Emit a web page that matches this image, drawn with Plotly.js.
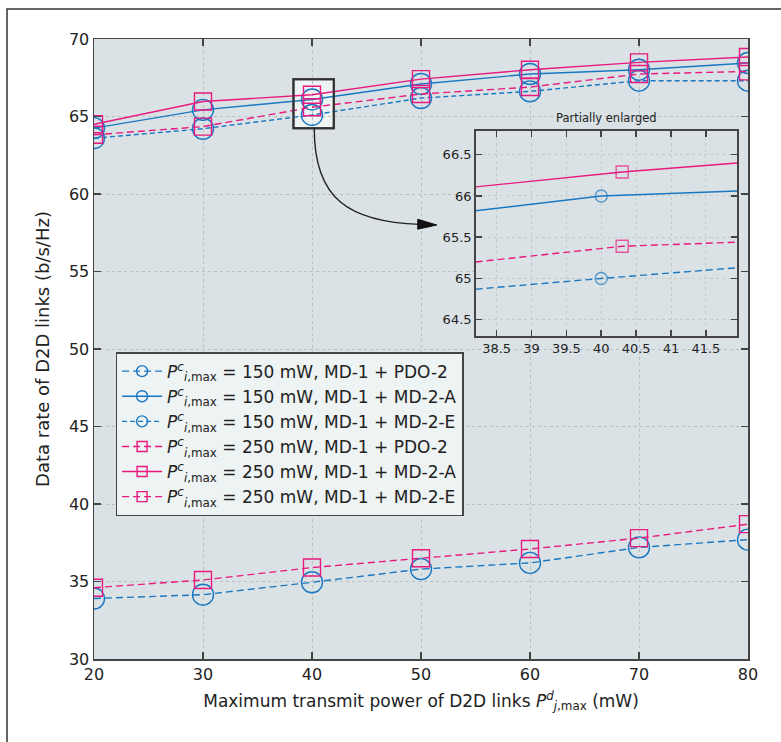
<!DOCTYPE html>
<html>
<head>
<meta charset="utf-8">
<script src="https://cdn.plot.ly/plotly-3.0.1.min.js"></script>
<style>html,body{margin:0;padding:0;background:#fff;}#chart{width:781px;height:742px;}</style>
</head>
<body>
<div id="chart"></div>
<script>
// ---- data ----
const powerD2D = [20, 30, 40, 50, 60, 70, 80];
const pdo150 = [33.9, 34.15, 34.95, 35.8, 36.2, 37.2, 37.7];
const mdA150 = [64.25, 65.43, 66.1, 67.1, 67.74, 68.02, 68.45];
const mdE150 = [63.6, 64.21, 65.1, 66.19, 66.62, 67.31, 67.31];
const pdo250 = [34.6, 35.1, 35.9, 36.5, 37.1, 37.8, 38.7];
const mdA250 = [64.5, 65.97, 66.4, 67.41, 68.02, 68.49, 68.84];
const mdE250 = [63.82, 64.35, 65.6, 66.45, 66.9, 67.74, 67.91];

const seriesNames = [
  "<i>P</i><sup><i>c</i></sup><sub><i>i</i>,max</sub> = 150 mW, MD-1 + PDO-2",
  "<i>P</i><sup><i>c</i></sup><sub><i>i</i>,max</sub> = 150 mW, MD-1 + MD-2-A",
  "<i>P</i><sup><i>c</i></sup><sub><i>i</i>,max</sub> = 150 mW, MD-1 + MD-2-E",
  "<i>P</i><sup><i>c</i></sup><sub><i>i</i>,max</sub> = 250 mW, MD-1 + PDO-2",
  "<i>P</i><sup><i>c</i></sup><sub><i>i</i>,max</sub> = 250 mW, MD-1 + MD-2-A",
  "<i>P</i><sup><i>c</i></sup><sub><i>i</i>,max</sub> = 250 mW, MD-1 + MD-2-E"
];

// inset ("Partially enlarged") data
const insetXCircle = [38.2, 40, 41.95];
const insetXSquare = [38.2, 40.3, 41.95];
const insetA150 = [65.82, 66.0, 66.06];
const insetE150 = [64.87, 65.0, 65.13];
const insetA250 = [66.11, 66.29, 66.40];
const insetE250 = [65.20, 65.39, 65.44];

const xTicks = [20, 30, 40, 50, 60, 70, 80];
const yTicks = [30, 35, 40, 45, 50, 55, 60, 65, 70];
const insetXTicks = [38.5, 39, 39.5, 40, 40.5, 41, 41.5];
const insetYTicks = [64.5, 65, 65.5, 66, 66.5];

// ---- styles ----
const BLUE = "#1a78c2";
const PINK = "#e8197f";
const FONT = "DejaVu Sans, Verdana, sans-serif";

const seriesStyles = [
  {y: pdo150, color: BLUE, dash: "7px,4px", symbol: "circle-open", size: 21},
  {y: mdA150, color: BLUE, dash: "solid", symbol: "circle-open", size: 21},
  {y: mdE150, color: BLUE, dash: "5px,3px", symbol: "circle-open", size: 21},
  {y: pdo250, color: PINK, dash: "7px,4px", symbol: "square-open", size: 17},
  {y: mdA250, color: PINK, dash: "solid", symbol: "square-open", size: 17},
  {y: mdE250, color: PINK, dash: "7px,4px", symbol: "square-open", size: 17}
];

const traces = [];
// plotted series (legend handled by proxy entries with smaller symbols)
seriesStyles.forEach((s, i) => {
  traces.push({
    x: powerD2D, y: s.y, name: seriesNames[i], type: "scatter", mode: "lines+markers",
    showlegend: false,
    line: {color: s.color, width: 1.4, dash: s.dash},
    marker: {symbol: s.symbol, size: s.size, color: s.color, line: {color: s.color, width: 1.4}},
    xaxis: "x", yaxis: "y"
  });
});
// legend entries (no data drawn)
seriesStyles.forEach((s, i) => {
  traces.push({
    x: [null], y: [null], name: seriesNames[i], type: "scatter", mode: "lines+markers",
    line: {color: s.color, width: 1.4, dash: s.dash},
    marker: {symbol: s.symbol, size: s.symbol === "circle-open" ? 11 : 10, color: s.color,
             line: {color: s.color, width: 1.4}},
    xaxis: "x", yaxis: "y", hoverinfo: "skip"
  });
});

function insetTrace(x, y, color, dash, symbol) {
  return {
    x: x, y: y, type: "scatter", mode: "lines+markers", showlegend: false,
    line: {color: color, width: 1.4, dash: dash},
    marker: {symbol: symbol, size: [0, 12, 0], color: color, line: {color: color, width: [0, 1.4, 0]}},
    xaxis: "x2", yaxis: "y2", hoverinfo: "skip"
  };
}
traces.push(
  insetTrace(insetXCircle, insetA150, BLUE, "solid", "circle-open"),
  insetTrace(insetXCircle, insetE150, BLUE, "7px,4px", "circle-open"),
  insetTrace(insetXSquare, insetA250, PINK, "solid", "square-open"),
  insetTrace(insetXSquare, insetE250, PINK, "7px,4px", "square-open")
);

const axisCommon = {
  showline: true, linecolor: "#444", linewidth: 1.5, mirror: "ticks",
  ticks: "inside", ticklen: 7, tickcolor: "#444", tickwidth: 1.5,
  showgrid: true, gridcolor: "#b9bfc2", griddash: "dot", gridwidth: 1,
  zeroline: false, tickfont: {family: FONT, size: 16, color: "#222"}
};

const layout = {
  width: 781, height: 742,
  margin: {l: 94, r: 33, t: 39, b: 83},
  paper_bgcolor: "#ffffff",
  plot_bgcolor: "#dbe2e5",
  font: {family: FONT, color: "#222"},
  showlegend: true,
  legend: {
    x: 0.033, y: 0.495, xanchor: "left", yanchor: "top",
    bgcolor: "#eef3f3", bordercolor: "#444", borderwidth: 1.5,
    font: {family: FONT, size: 17, color: "#222"},
    tracegroupgap: 0, itemwidth: 40
  },
  xaxis: Object.assign({}, axisCommon, {
    domain: [0, 1], range: [20, 80], tickvals: xTicks, anchor: "y",
    title: {text: "Maximum transmit power of D2D links <i>P</i><sup><i>d</i></sup><sub><i>j</i>,max</sub> (mW)",
            font: {family: FONT, size: 17, color: "#222"}, standoff: 12}
  }),
  yaxis: Object.assign({}, axisCommon, {
    domain: [0, 1], range: [30, 70], tickvals: yTicks, anchor: "x",
    title: {text: "Data rate of D2D links (b/s/Hz)", font: {family: FONT, size: 18, color: "#222"}, standoff: 14}
  }),
  xaxis2: Object.assign({}, axisCommon, {
    domain: [0.5836, 0.9836], range: [38.2, 41.95], tickvals: insetXTicks, anchor: "y2",
    ticklen: 6, tickfont: {family: FONT, size: 13, color: "#222"}, gridcolor: "#c4c9cc"
  }),
  yaxis2: Object.assign({}, axisCommon, {
    domain: [0.5206, 0.852], range: [64.3, 66.79], tickvals: insetYTicks, anchor: "x2",
    ticklen: 6, tickfont: {family: FONT, size: 13, color: "#222"}, gridcolor: "#c4c9cc"
  }),
  annotations: [
    {text: "Partially enlarged", xref: "x2 domain", yref: "y2 domain", x: 0.5, y: 1.0,
     yanchor: "bottom", yshift: 4, showarrow: false, font: {family: FONT, size: 11.5, color: "#222"}}
  ],
  shapes: [
    // inset background
    {type: "rect", xref: "x2 domain", yref: "y2 domain", x0: 0, x1: 1, y0: 0, y1: 1,
     fillcolor: "#eef3f3", line: {width: 0}, layer: "below"},
    // zoom window in main plot
    {type: "rect", xref: "x", yref: "y", x0: 38.3, x1: 42.0, y0: 64.25, y1: 67.4,
     fillcolor: "#eef3f3", line: {color: "#333", width: 2}, layer: "below"},
    {type: "rect", xref: "x", yref: "y", x0: 38.3, x1: 42.0, y0: 64.25, y1: 67.4,
     fillcolor: "rgba(0,0,0,0)", line: {color: "#333", width: 2}, layer: "above"},
    // curved arrow
    {type: "path", xref: "x", yref: "y", path: "M 40.21 64.25 C 40.18 59.62, 43.49 58.20, 49.9 58.04",
     line: {color: "#222", width: 1.4}, layer: "above"},
    {type: "path", xref: "x", yref: "y", path: "M 51.45 58.0 L 49.7 58.37 L 49.7 57.73 Z",
     fillcolor: "#111", line: {color: "#111", width: 1}, layer: "above"},
    // outer frame
    {type: "rect", xref: "paper", yref: "paper", x0: -0.133, x1: 1.07, y0: -0.16, y1: 1.0484,
     fillcolor: "rgba(0,0,0,0)", line: {color: "#333", width: 1.5}, layer: "above"}
  ]
};

Plotly.newPlot("chart", traces, layout, {displayModeBar: false, staticPlot: true});
</script>
</body>
</html>
